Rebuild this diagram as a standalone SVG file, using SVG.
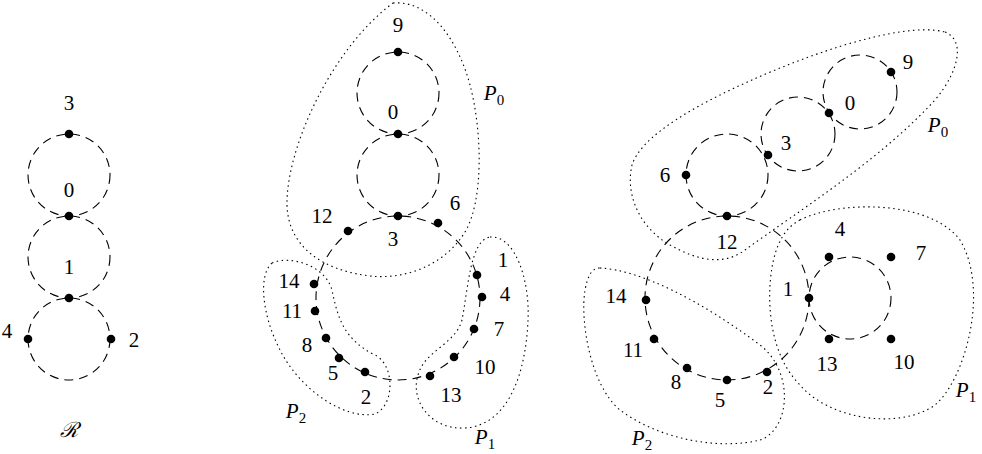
<svg xmlns="http://www.w3.org/2000/svg" width="982" height="454" viewBox="0 0 982 454">
<style>
.c{fill:none;stroke:#000;stroke-width:1.1;stroke-dasharray:9,6}
.b{fill:none;stroke:#000;stroke-width:1.1;stroke-dasharray:1.5,3.5}
.d{fill:#000}
text{font-family:"Liberation Serif","DejaVu Serif",serif;font-size:21px;fill:#000;text-anchor:middle}
.i{font-style:italic}
.s{font-size:15px;font-style:normal}
</style>
<rect width="982" height="454" fill="#fff"/>
<g id="connectors">
<circle class="c" cx="69" cy="175" r="41"/>
<circle class="c" cx="69" cy="257" r="41"/>
<circle class="c" cx="69" cy="339" r="41"/>
<circle class="c" cx="398" cy="93" r="41"/>
<circle class="c" cx="398" cy="175" r="41"/>
<circle class="c" cx="398" cy="298" r="82"/>
<circle class="c" cx="860" cy="92" r="37"/>
<circle class="c" cx="798" cy="134" r="37"/>
<circle class="c" cx="727" cy="175" r="41"/>
<circle class="c" cx="850" cy="298" r="41"/>
<circle class="c" cx="727" cy="298" r="82"/>
</g>
<g id="regions">
<path class="b" d="M393,3 C430,0 458,40 470,85 C482,130 484,200 465,232 C445,265 405,280 370,276 C320,270 288,245 287,205 C286,150 330,50 393,3 Z"/>
<path class="b" d="M272,263 C290,255 325,265 332,290 C338,320 345,340 375,355 C395,365 395,405 375,414 C345,420 300,390 280,350 C262,315 258,275 272,263 Z"/>
<path class="b" d="M490,237 C515,235 530,280 528,320 C526,370 510,425 465,428 C430,430 410,400 418,375 C425,350 455,345 462,320 C468,290 470,240 490,237 Z"/>
<path class="b" d="M945,32 C965,40 960,70 935,100 C880,160 800,210 745,250 C725,265 700,262 670,245 C640,228 625,195 632,165 C640,140 680,115 720,95 C790,60 900,20 945,32 Z"/>
<path class="b" d="M800,220 C840,200 930,200 960,240 C990,290 965,380 935,405 C900,430 830,420 800,385 C775,360 768,320 770,285 C772,255 780,230 800,220 Z"/>
<path class="b" d="M600,268 C640,270 700,300 760,345 C795,372 790,430 760,440 C720,450 660,440 620,410 C590,385 580,320 585,290 C588,275 592,268 600,268 Z"/>
</g>
<g id="R">
<circle class="d" cx="69" cy="134" r="4.3"/><text x="69" y="110">3</text>
<circle class="d" cx="69" cy="216" r="4.3"/><text x="69" y="197">0</text>
<circle class="d" cx="69" cy="298" r="4.3"/><text x="69" y="274">1</text>
<circle class="d" cx="28" cy="339" r="4.3"/><text x="7" y="338">4</text>
<circle class="d" cx="111" cy="339" r="4.3"/><text x="134" y="347">2</text>
<text x="69" y="437" style="font-family:'DejaVu Serif',serif;font-style:italic">ℛ</text>
</g>
<g id="mid">
<circle class="d" cx="398" cy="52" r="4.3"/><text x="398" y="32">9</text>
<circle class="d" cx="398" cy="134" r="4.3"/><text x="393" y="119">0</text>
<circle class="d" cx="398" cy="216" r="4.3"/><text x="393" y="246">3</text>
<circle class="d" cx="348" cy="231" r="4.3"/><text x="322" y="223">12</text>
<circle class="d" cx="438" cy="223" r="4.3"/><text x="455" y="210">6</text>
<circle class="d" cx="314" cy="284" r="4.3"/><text x="289" y="288">14</text>
<circle class="d" cx="315" cy="311" r="4.3"/><text x="292" y="318">11</text>
<circle class="d" cx="326" cy="338" r="4.3"/><text x="307" y="352">8</text>
<circle class="d" cx="339" cy="358" r="4.3"/><text x="333" y="380">5</text>
<circle class="d" cx="365" cy="372" r="4.3"/><text x="366" y="404">2</text>
<circle class="d" cx="477" cy="275" r="4.3"/><text x="503" y="267">1</text>
<circle class="d" cx="482" cy="297" r="4.3"/><text x="505" y="301">4</text>
<circle class="d" cx="474" cy="329" r="4.3"/><text x="499" y="336">7</text>
<circle class="d" cx="454" cy="357" r="4.3"/><text x="485" y="374">10</text>
<circle class="d" cx="430" cy="376" r="4.3"/><text x="451" y="402">13</text>
<text x="494" y="100" class="i">P<tspan class="s" dy="5">0</tspan></text>
<text x="296" y="418" class="i">P<tspan class="s" dy="5">2</tspan></text>
<text x="485" y="444" class="i">P<tspan class="s" dy="5">1</tspan></text>
</g>
<g id="right">
<circle class="d" cx="891" cy="72" r="4.3"/><text x="908" y="69">9</text>
<circle class="d" cx="829" cy="113" r="4.3"/><text x="850" y="110">0</text>
<circle class="d" cx="768" cy="155" r="4.3"/><text x="786" y="150">3</text>
<circle class="d" cx="686" cy="175" r="4.3"/><text x="665" y="182">6</text>
<circle class="d" cx="727" cy="216" r="4.3"/><text x="727" y="249">12</text>
<circle class="d" cx="829" cy="257" r="4.3"/><text x="840" y="236">4</text>
<circle class="d" cx="891" cy="257" r="4.3"/><text x="921" y="260">7</text>
<circle class="d" cx="809" cy="298" r="4.3"/><text x="788" y="296">1</text>
<circle class="d" cx="829" cy="339" r="4.3"/><text x="827" y="371">13</text>
<circle class="d" cx="891" cy="339" r="4.3"/><text x="904" y="369">10</text>
<circle class="d" cx="646" cy="300" r="4.3"/><text x="616" y="303">14</text>
<circle class="d" cx="654" cy="339" r="4.3"/><text x="633" y="357">11</text>
<circle class="d" cx="687" cy="368" r="4.3"/><text x="676" y="389">8</text>
<circle class="d" cx="727" cy="380" r="4.3"/><text x="720" y="407">5</text>
<circle class="d" cx="767" cy="372" r="4.3"/><text x="768" y="394">2</text>
<text x="938" y="132" class="i">P<tspan class="s" dy="5">0</tspan></text>
<text x="642" y="445" class="i">P<tspan class="s" dy="5">2</tspan></text>
<text x="966" y="397" class="i">P<tspan class="s" dy="5">1</tspan></text>
</g>
</svg>
